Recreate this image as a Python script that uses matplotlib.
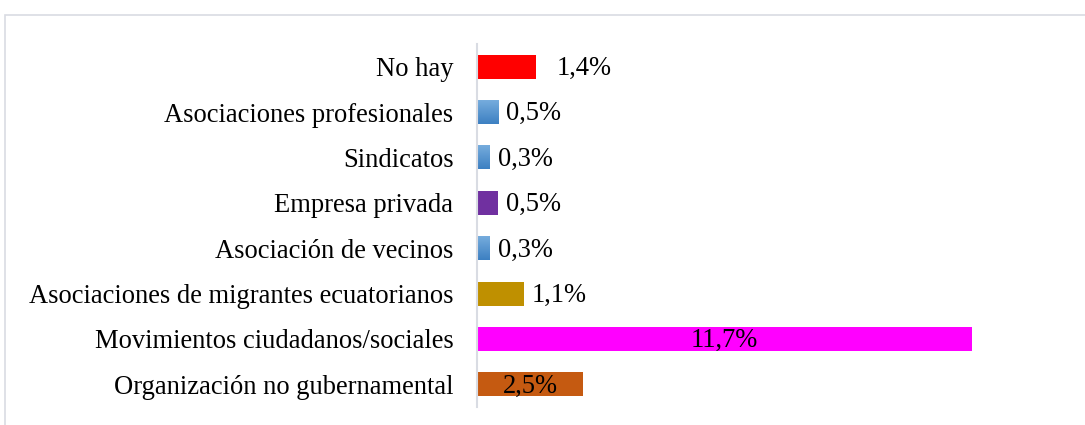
import matplotlib
matplotlib.use("Agg")
import matplotlib.pyplot as plt
import numpy as np
from matplotlib.colors import LinearSegmentedColormap
from matplotlib.patches import Rectangle

categories = [
    "No hay",
    "Asociaciones profesionales",
    "Sindicatos",
    "Empresa privada",
    "Asociación de vecinos",
    "Asociaciones de migrantes ecuatorianos",
    "Movimientos ciudadanos/sociales",
    "Organización no gubernamental",
]
values = [1.4, 0.5, 0.3, 0.5, 0.3, 1.1, 11.7, 2.5]
labels = ["1,4%", "0,5%", "0,3%", "0,5%", "0,3%", "1,1%", "11,7%", "2,5%"]
colors = ["#FF0000", "gradient", "gradient", "#7030A0", "gradient",
          "#BF9000", "#FF00FF", "#C55A11"]

plt.rcParams['font.family'] = ['Liberation Serif', 'DejaVu Serif']

W, H = 1085, 425
fig = plt.figure(figsize=(W / 100, H / 100), dpi=100)

# outer frame
frame = Rectangle((5 / W, -0.05), 1.1, (H - 15) / H + 0.05, transform=fig.transFigure,
                  fill=False, edgecolor="#D9DCE3", linewidth=1.2)
fig.patches.append(frame)

ax_left, ax_right = 477, 1045
ax_top, ax_bottom = 44, 407
ax = fig.add_axes([ax_left / W, 1 - ax_bottom / H, (ax_right - ax_left) / W,
                   (ax_bottom - ax_top) / H])

px_per_unit = (972 - 477) / 11.7
ax.set_xlim(0, (ax_right - ax_left) / px_per_unit)
n = len(categories)
y = np.arange(n)
ax.set_ylim(n - 0.5, -0.5)

bar_h = 0.53
grad_cmap = LinearSegmentedColormap.from_list("g", ["#78AEDE", "#3D80C2"])
for i, (v, c) in enumerate(zip(values, colors)):
    if c == "gradient":
        b = ax.barh(y[i], v, height=bar_h, color="none", edgecolor="none")[0]
        img = ax.imshow(np.linspace(0, 1, 50).reshape(-1, 1), cmap=grad_cmap,
                        extent=[0, v, y[i] + bar_h / 2, y[i] - bar_h / 2],
                        aspect="auto", zorder=2)
        img.set_clip_path(b)
    else:
        ax.barh(y[i], v, height=bar_h, color=c, edgecolor="none", zorder=2)

fs = 26.5 * 72 / 100
for i, (v, lab) in enumerate(zip(values, labels)):
    if v > 2:
        ax.text(v / 2, y[i] + 0.04, lab, ha="center", va="center", fontsize=fs,
                color="black")
    else:
        off = 20 if i == 0 else 8
        ax.annotate(lab, (v, y[i] + 0.04), xytext=(off, 0), textcoords="offset pixels",
                    ha="left", va="center", fontsize=fs, color="black")

ax.set_yticks(y)
ax.set_yticklabels(categories, fontsize=fs)
ax.tick_params(axis="y", length=0, pad=17)
ax.set_xticks([])
for s in ["top", "right", "bottom"]:
    ax.spines[s].set_visible(False)
ax.spines["left"].set_color("#D9DCE3")
ax.spines["left"].set_linewidth(1.5)
ax.set_facecolor("none")

fig.savefig("out.png", dpi=100)
